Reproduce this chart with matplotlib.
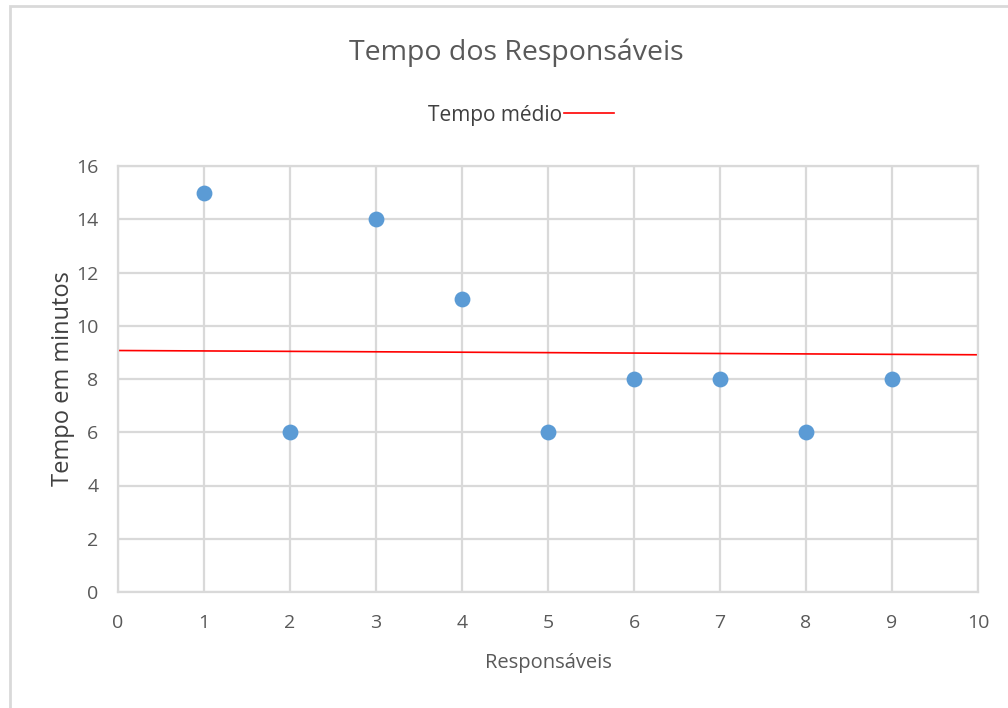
import matplotlib
matplotlib.use('Agg')
import matplotlib.pyplot as plt
from matplotlib.patches import Rectangle

plt.rcParams['font.family'] = ['Open Sans', 'DejaVu Sans']

# data
responsaveis = [1, 2, 3, 4, 5, 6, 7, 8, 9]
tempos = [15, 6, 14, 11, 6, 8, 8, 6, 8]
media_x = [0, 10]
media_y = [9.07, 8.91]

txt = '#595959'
grid = '#d9d9d9'

fig = plt.figure(figsize=(10.08, 7.08), dpi=100)
ax = fig.add_axes([118/1008, 1 - 592/708, 860/1008, 426/708])

# outer chart border (cut off at right/bottom like the screenshot)
fig.patches.append(Rectangle((10/1008, -0.1), 1.2, 0.1 + 702/708, transform=fig.transFigure,
                             fill=False, edgecolor=grid, linewidth=2))

ax.scatter(responsaveis, tempos, s=130, color='#5b9bd5', zorder=3, linewidths=0)
ax.plot(media_x, media_y, color='#ff0000', linewidth=1.2, zorder=2, label='Tempo médio')

ax.set_xlim(0, 10)
ax.set_ylim(0, 16)
ax.set_xticks(range(0, 11))
ax.set_yticks(range(0, 17, 2))
ax.grid(True, color=grid, linewidth=1.6)
ax.set_axisbelow(True)
for s in ax.spines.values():
    s.set_color(grid)
    s.set_linewidth(1.6)
ax.tick_params(length=0, labelsize=14, colors=txt)
ax.tick_params(axis='x', pad=16)
ax.tick_params(axis='y', pad=14)

ax.set_xlabel('Responsáveis', fontsize=14.5, color=txt, labelpad=15)
ax.set_ylabel('Tempo em minutos', fontsize=17, color='#404040', labelpad=1)

fig.text(0.5126, 1 - 53/708, 'Tempo dos Responsáveis', ha='center', va='center',
         fontsize=20.5, color=txt)
ax.legend(loc='center', bbox_to_anchor=(521/1008, 1 - 115/708), bbox_transform=fig.transFigure,
          frameon=False, markerfirst=False, handlelength=2.4, handletextpad=0.05,
          fontsize=15, labelcolor='#404040')

fig.savefig('out.png', dpi=100, facecolor='white')
